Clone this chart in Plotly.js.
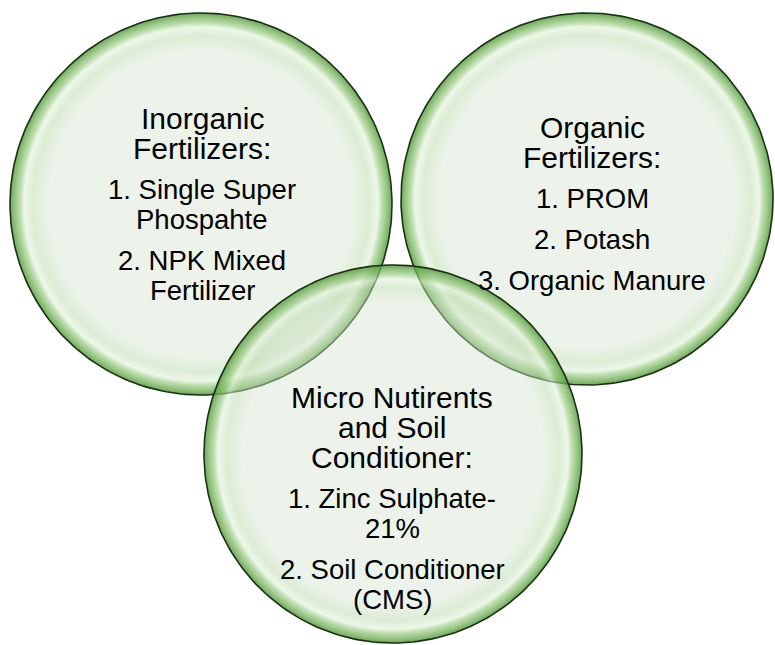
<!DOCTYPE html>
<html>
<head>
<meta charset="utf-8">
<script src="https://cdn.plot.ly/plotly-3.0.1.min.js"></script>
<style>html,body{margin:0;padding:0;background:#fff;}#chart{width:775px;height:645px;}</style>
</head>
<body>
<div id="chart"></div>
<script>
// ---- Data ----
const circleNames = ['Inorganic Fertilizers', 'Organic Fertilizers', 'Micro Nutirents and Soil Conditioner'];
const circleCenterX = [201, 587, 393];
const circleCenterY = [204, 199, 454];
const circleRadius = [191, 186, 189];

const headings = [
  ['Inorganic', 'Fertilizers:'],
  ['Organic', 'Fertilizers:'],
  ['Micro Nutirents', 'and Soil', 'Conditioner:']
];
const items = [
  [['1. Single Super', 'Phospahte'], ['2. NPK Mixed', 'Fertilizer']],
  [['1. PROM'], ['2. Potash'], ['3. Organic Manure']],
  [['1. Zinc Sulphate-', '21%'], ['2. Soil Conditioner', '(CMS)']]
];

// ---- Layout / style settings ----
const textCenterX = [202, 592, 392];
const firstBaseline = [128, 137, 407];
const headingFontSize = 30;
const itemFontSize = 27.5;
const lineStep = 30;
const paraStep = 41;

const gradientScale = [
  [0.0,  'rgba(215,228,210,0.45)'],
  [0.80, 'rgba(212,228,206,0.45)'],
  [0.88, 'rgba(185,218,170,0.5)'],
  [0.925,'rgba(225,242,218,0.6)'],
  [0.95, 'rgba(150,200,125,0.65)'],
  [1.0,  'rgba(80,155,55,0.85)']
];

const traces = [];
for (let i = 0; i < circleNames.length; i++) {
  const xs = [], ys = [];
  const n = 240;
  for (let k = 0; k <= n; k++) {
    const a = 2 * Math.PI * k / n;
    xs.push(circleCenterX[i] + circleRadius[i] * Math.cos(a));
    ys.push(circleCenterY[i] + circleRadius[i] * Math.sin(a));
  }
  traces.push({
    type: 'scatter', mode: 'lines', name: circleNames[i],
    x: xs, y: ys, fill: 'toself',
    fillgradient: { type: 'radial', colorscale: gradientScale },
    line: { color: '#1f2e18', width: 1.6 },
    hoverinfo: 'skip'
  });
}

const annotations = [];
for (let i = 0; i < headings.length; i++) {
  let y = firstBaseline[i];
  const paras = [headings[i]].concat(items[i]);
  paras.forEach((p, pi) => {
    if (pi > 0) y += paraStep - lineStep;
    const fs = pi === 0 ? headingFontSize : itemFontSize;
    p.forEach((line, li) => {
      if (pi > 0 || li > 0) y += lineStep;
      annotations.push({
        x: textCenterX[i], y: y - 0.33 * fs, xref: 'x', yref: 'y',
        text: line, showarrow: false, xanchor: 'center', yanchor: 'middle',
        font: { family: 'Arial, Liberation Sans, sans-serif', size: fs, color: '#000' }
      });
    });
  });
}

const layout = {
  width: 775, height: 645,
  margin: { l: 0, r: 0, t: 0, b: 0 },
  paper_bgcolor: '#ffffff', plot_bgcolor: '#ffffff',
  showlegend: false,
  xaxis: { range: [0, 775], visible: false, fixedrange: true },
  yaxis: { range: [645, 0], visible: false, fixedrange: true },
  annotations: annotations
};

Plotly.newPlot('chart', traces, layout, { staticPlot: true });
</script>
</body>
</html>
